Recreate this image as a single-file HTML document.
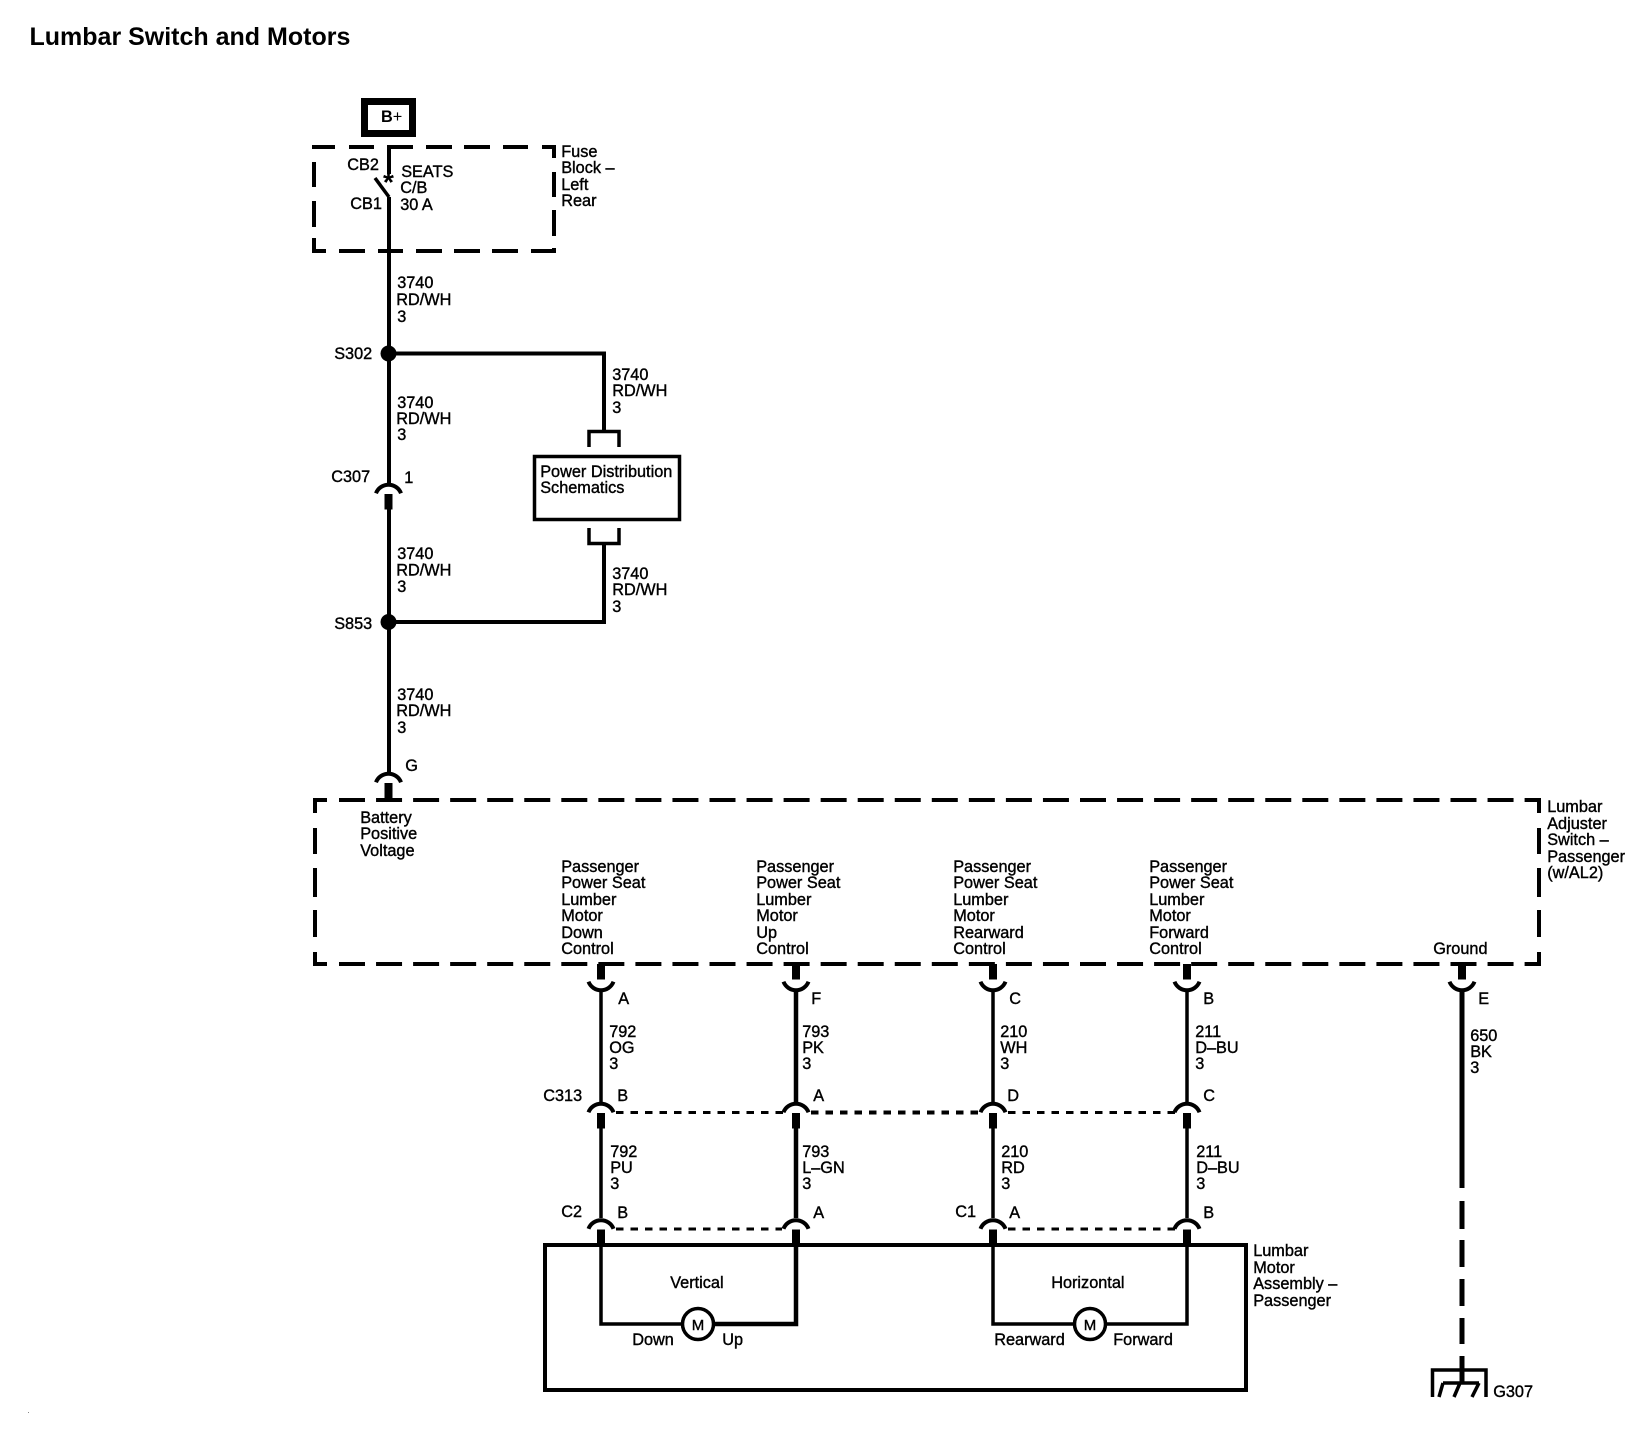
<!DOCTYPE html>
<html><head><meta charset="utf-8"><style>
html,body{margin:0;padding:0;background:#fff}
svg{display:block}
text{font-family:"Liberation Sans",sans-serif;font-size:16.3px;fill:#000;stroke:#000;stroke-width:.38}
.l{stroke:#000;fill:none}
</style></head><body>
<svg width="1652" height="1456" viewBox="0 0 1652 1456" xmlns="http://www.w3.org/2000/svg">
<defs>
<g id="t"><path class="l" stroke-width="4" d="M-12.5,10.3A13.4,13.4 0 0 1 12.5,10.3"/><rect x="-4" y="11" width="8" height="15.5" fill="#000"/></g>
<g id="b"><path class="l" stroke-width="4" d="M-12.5,-10.3A13.4,13.4 0 0 0 12.5,-10.3"/><rect x="-4" y="-28" width="8" height="15.5" fill="#000"/></g>
</defs>
<rect width="1652" height="1456" fill="#fff"/>
<text x="29.5" y="45" style="font-size:25px;font-weight:bold;stroke-width:0">Lumbar Switch and Motors</text>

<!-- B+ -->
<rect x="364.5" y="101.5" width="48" height="32" class="l" stroke-width="7"/>
<text x="381" y="122" style="font-weight:bold;stroke-width:0">B<tspan style="font-weight:normal">+</tspan></text>

<!-- Fuse block dashed -->
<path class="l" stroke-width="4" d="M312 147H335M349 147H374M387 147H413M426 147H452M464 147H490M503 147H528M542 147H556
M314 145V149M314 162V187M314 201V227M314 238V253M554 145V158M554 172V197M554 210V236M554 248V253
M312 251H326M339 251H365M378 251H403M416 251H442M454 251H480M492 251H518M531 251H556"/>

<!-- main wire -->
<path class="l" stroke-width="4" d="M389 145V174M389 197V483M389 509V772"/>
<path class="l" stroke-width="3.5" d="M375 178L389 197"/>
<text x="383" y="191.5" style="font-size:28px;font-weight:bold;stroke-width:0">*</text>
<circle cx="388.5" cy="353.5" r="8" fill="#000"/>
<circle cx="388.5" cy="622" r="8" fill="#000"/>
<path class="l" stroke-width="4" d="M389 353.5H604V431M389 622H604V544"/>
<path class="l" stroke-width="3.5" d="M589 447V431.5H619V447M589 528V543.5H619V528"/>
<rect x="534.5" y="456.5" width="145" height="63" class="l" stroke-width="3.5"/>
<use href="#t" x="388.5" y="483"/>
<use href="#t" x="388.5" y="772"/>

<!-- Switch dashed box -->
<path class="l" stroke-width="4" d="M313 800H327M313 964H327M315 798V813M315 828V854M315 868V897M315 910V937M315 952V966M1539 798V813M1539 828V854M1539 868V897M1539 910V937M1539 952V966"/>
<path class="l" stroke-width="4" stroke-dasharray="26 11.05" d="M339 800H1541M339 964H1541"/>

<!-- lower wires -->
<path class="l" stroke-width="3.5" d="M601 990V1102M601 1128V1218M601 1245V1324H681M993 990V1102M993 1128V1218M993 1245V1324H1074M1187 990V1102M1187 1128V1218M1187 1245V1324H1106"/>
<path class="l" stroke-width="4.5" d="M796 990V1102M796 1128V1218M796 1245V1324H714"/>
<path class="l" stroke-width="5" d="M1462 990V1188M1462 1201V1229M1462 1240V1267M1462 1279V1306M1462 1318V1344M1462 1356V1383"/>
<use href="#b" x="601" y="992"/><use href="#b" x="796" y="992"/><use href="#b" x="993" y="992"/><use href="#b" x="1187" y="992"/><use href="#b" x="1462" y="992"/>
<use href="#t" x="601" y="1102"/><use href="#t" x="796" y="1102"/><use href="#t" x="993" y="1102"/><use href="#t" x="1187" y="1102"/>
<use href="#t" x="601" y="1218.5"/><use href="#t" x="796" y="1218.5"/><use href="#t" x="993" y="1218.5"/><use href="#t" x="1187" y="1218.5"/>
<path class="l" stroke-width="3" stroke-dasharray="7.5 7" d="M616 1112.5H783M1008 1112.5H1175M616 1229H782M1008 1229H1175"/>
<path class="l" stroke-width="4" stroke-dasharray="7.5 7" d="M811 1112.5H980"/>

<!-- Motor box -->
<rect x="545" y="1245" width="701" height="145" class="l" stroke-width="4"/>
<circle cx="698" cy="1324" r="15.5" fill="#fff" stroke="#000" stroke-width="3.5"/>
<circle cx="1090" cy="1324" r="15.5" fill="#fff" stroke="#000" stroke-width="3.5"/>

<!-- Ground -->
<path class="l" stroke-width="3.5" d="M1432.5 1397V1370H1486V1397"/>
<path class="l" stroke-width="3.5" d="M1443 1383H1479M1443 1383L1439 1397M1460 1383L1454 1397M1479 1383L1472 1397"/>

<!-- Labels -->
<g transform="translate(-0.8 0)">
<text x="348" y="170">CB2</text><text x="351" y="209">CB1</text>
<text x="402" y="177">SEATS</text><text x="401" y="193">C/B</text><text x="401" y="210">30 A</text>
<text x="562" y="157">Fuse</text><text x="562" y="173">Block –</text><text x="562" y="190">Left</text><text x="562" y="206">Rear</text>
<text x="398" y="288">3740</text><text x="397" y="305">RD/WH</text><text x="398" y="322">3</text>
<text x="335" y="359">S302</text>
<text x="613" y="380">3740</text><text x="613" y="396">RD/WH</text><text x="613" y="413">3</text>
<text x="398" y="408">3740</text><text x="397" y="424">RD/WH</text><text x="398" y="440">3</text>
<text x="332" y="482">C307</text><text x="405" y="483">1</text>
<text x="541" y="477">Power Distribution</text><text x="541" y="493">Schematics</text>
<text x="398" y="559">3740</text><text x="397" y="575.5">RD/WH</text><text x="398" y="592">3</text>
<text x="613" y="579">3740</text><text x="613" y="595">RD/WH</text><text x="613" y="612">3</text>
<text x="335" y="629">S853</text>
<text x="398" y="700">3740</text><text x="397" y="716">RD/WH</text><text x="398" y="733">3</text>
<text x="406" y="771">G</text>
<text x="361" y="823">Battery</text><text x="361" y="839">Positive</text><text x="361" y="856">Voltage</text>

<text x="562" y="872">Passenger</text><text x="562" y="888">Power Seat</text><text x="562" y="905">Lumber</text><text x="562" y="921">Motor</text><text x="562" y="938">Down</text><text x="562" y="954">Control</text>
<text x="757" y="872">Passenger</text><text x="757" y="888">Power Seat</text><text x="757" y="905">Lumber</text><text x="757" y="921">Motor</text><text x="757" y="938">Up</text><text x="757" y="954">Control</text>
<text x="954" y="872">Passenger</text><text x="954" y="888">Power Seat</text><text x="954" y="905">Lumber</text><text x="954" y="921">Motor</text><text x="954" y="938">Rearward</text><text x="954" y="954">Control</text>
<text x="1150" y="872">Passenger</text><text x="1150" y="888">Power Seat</text><text x="1150" y="905">Lumber</text><text x="1150" y="921">Motor</text><text x="1150" y="938">Forward</text><text x="1150" y="954">Control</text>
<text x="1434" y="954">Ground</text>
<text x="1548" y="812">Lumbar</text><text x="1548" y="829">Adjuster</text><text x="1548" y="845">Switch –</text><text x="1548" y="862">Passenger</text><text x="1548" y="878">(w/AL2)</text>

<text x="619" y="1004">A</text><text x="812" y="1004">F</text><text x="1010" y="1004">C</text><text x="1204" y="1004">B</text><text x="1479" y="1004">E</text>
<text x="610" y="1037">792</text><text x="610" y="1053">OG</text><text x="610" y="1069">3</text>
<text x="803" y="1037">793</text><text x="803" y="1053">PK</text><text x="803" y="1069">3</text>
<text x="1001" y="1037">210</text><text x="1001" y="1053">WH</text><text x="1001" y="1069">3</text>
<text x="1196" y="1037">211</text><text x="1196" y="1053">D–BU</text><text x="1196" y="1069">3</text>
<text x="1471" y="1041">650</text><text x="1471" y="1057">BK</text><text x="1471" y="1073">3</text>

<text x="544" y="1101">C313</text><text x="618" y="1101">B</text><text x="814" y="1101">A</text><text x="1008" y="1101">D</text><text x="1204" y="1101">C</text>
<text x="611" y="1157">792</text><text x="611" y="1173">PU</text><text x="611" y="1189">3</text>
<text x="803" y="1157">793</text><text x="803" y="1173">L–GN</text><text x="803" y="1189">3</text>
<text x="1002" y="1157">210</text><text x="1002" y="1173">RD</text><text x="1002" y="1189">3</text>
<text x="1197" y="1157">211</text><text x="1197" y="1173">D–BU</text><text x="1197" y="1189">3</text>
<text x="562" y="1217">C2</text><text x="618" y="1218">B</text><text x="814" y="1218">A</text><text x="956" y="1217">C1</text><text x="1010" y="1218">A</text><text x="1204" y="1218">B</text>

<text x="671" y="1288">Vertical</text><text x="1052" y="1288">Horizontal</text>
<text x="698.8" y="1330" text-anchor="middle" style="font-size:15px">M</text><text x="1090.8" y="1330" text-anchor="middle" style="font-size:15px">M</text>
<text x="633" y="1345">Down</text><text x="723" y="1345">Up</text><text x="995" y="1345">Rearward</text><text x="1114" y="1345">Forward</text>
<text x="1254" y="1256">Lumbar</text><text x="1254" y="1273">Motor</text><text x="1254" y="1289">Assembly –</text><text x="1254" y="1306">Passenger</text>
<text x="1494" y="1397">G307</text>
</g>
<rect x="28" y="1412" width="1" height="1" fill="#888"/>
</svg>
</body></html>
